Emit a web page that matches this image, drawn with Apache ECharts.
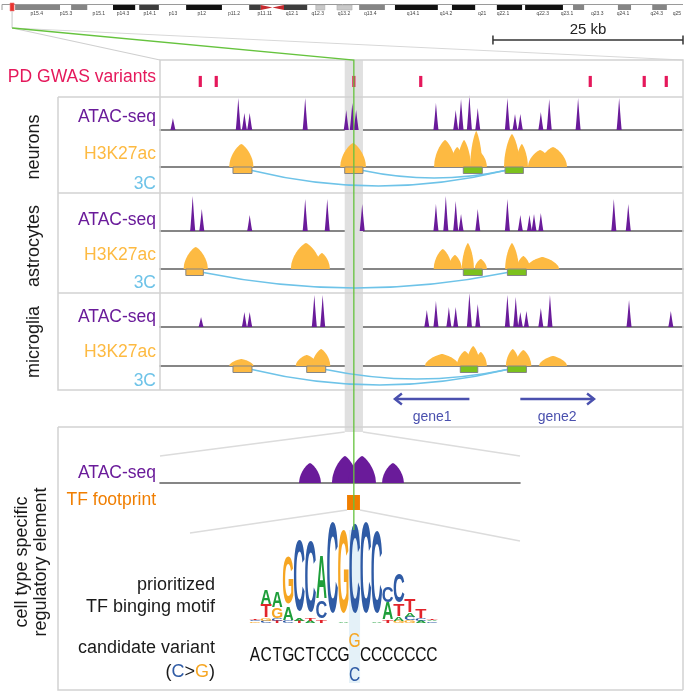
<!DOCTYPE html>
<html><head><meta charset="utf-8">
<script src="https://cdn.jsdelivr.net/npm/echarts@6/dist/echarts.min.js"></script>
<style>html,body{margin:0;padding:0;background:#fff}#c{width:685px;height:693px}</style>
</head><body><div id="c"></div>
<script>
// ================= DATA =================
// chromosome 11 ideogram (Mb)
const chromLength = 135;
const chromBands = [[2.6,11.5,'gpos50'],[13.7,16.9,'gpos50'],[22.0,26.4,'gpos100'],[27.2,31.1,'gpos75'],[36.5,43.6,'gpos100'],[49.0,51.3,'gpos75'],[55.9,60.5,'gpos75'],[62.2,64.0,'gpos25'],[66.4,69.4,'gpos25'],[70.8,75.9,'gpos50'],[77.9,86.4,'gpos100'],[89.2,93.8,'gpos100'],[98.1,103.1,'gpos100'],[103.7,111.2,'gpos100'],[113.2,115.4,'gpos50'],[122.1,124.7,'gpos50'],[128.9,131.8,'gpos50']];
const chromCentromere = [51.3, 55.9];
const chromLabels = [['p15.4',6.9],['p15.3',12.7],['p15.1',19.2],['p14.3',24.0],['p14.1',29.3],['p13',33.9],['p12',39.6],['p11.2',46.0],['p11.11',52.1],['q12.1',57.5],['q12.3',62.6],['q13.2',67.8],['q13.4',73.0],['q14.1',81.5],['q14.2',88.0],['q21',95.2],['q22.1',99.3],['q22.3',107.2],['q23.1',112.0],['q23.3',118.0],['q24.1',123.1],['q24.3',129.8],['q25',133.8]];
const locusMb = [1.6, 2.4];

// locus tracks (kb)
const locusKb = [0, 68.8];
const scaleBarKb = [43.8, 68.8];
const scaleBarLabel = '25 kb';
const gwasKb = [5.3, 7.4, 25.5, 34.3, 56.6, 63.7, 66.6];
const highlightKb = [24.3, 26.7];
const variantKb = 25.5;

// ATAC peaks: [position kb, signal]
const neuronsATAC = [[1.7,12],[10.3,32],[11.1,17],[11.8,17],[19.1,32],[24.5,20],[25.3,27],[25.8,20],[36.3,27],[38.9,20],[39.6,31],[40.7,35],[41.8,22],[45.7,32],[46.7,16],[47.4,16],[50.1,18],[51.2,31],[55.0,32],[60.4,32]];
const astrocytesATAC = [[4.3,35],[5.5,22],[11.8,16],[19.1,32],[22.0,32],[26.6,27],[36.3,27],[37.6,35],[38.9,30],[39.6,17],[41.8,22],[45.7,32],[47.4,16],[48.6,16],[49.2,17],[50.1,18],[59.7,32],[61.6,27]];
const microgliaATAC = [[5.4,10],[11.1,15],[11.8,15],[20.3,32],[21.4,32],[35.1,17],[36.3,26],[38.0,20],[38.9,20],[40.7,34],[41.8,23],[45.7,32],[46.8,30],[47.4,15],[48.2,16],[50.1,19],[51.3,32],[61.7,27],[67.2,16]];

// H3K27ac enrichment bumps: [center kb, half-width kb, signal]
const neuronsH3K27ac = [[10.7,1.6,23],[25.4,1.7,24],[37.5,1.45,27],[39.1,0.9,20],[40.0,0.9,27],[41.6,0.8,36],[42.2,0.8,14],[46.3,1.05,33],[47.6,0.8,23],[50.0,1.6,17],[51.7,1.85,20]];
const astrocytesH3K27ac = [[4.7,1.6,22],[19.2,2.0,26],[21.3,1.05,16],[37.2,1.2,20],[38.8,0.9,14],[40.5,0.8,26],[42.2,0.8,10],[46.3,0.9,26],[47.8,0.9,13],[50.3,2.2,12]];
const microgliaH3K27ac = [[10.7,1.6,7],[19.3,1.45,11],[21.2,1.2,17],[37.1,2.25,12],[40.1,1.05,15],[41.2,0.9,20],[42.2,0.8,14],[46.4,0.9,17],[47.8,1.05,16],[51.7,1.85,10]];

// 3C anchors: [start kb, end kb, kind 0=enhancer 1=promoter]; loops: [from kb, to kb, depth]
const neurons3Cbox = [[9.6,12.1,0],[24.3,26.7,0],[39.9,42.4,1],[45.4,47.8,1]];
const neurons3Cloop = [[12.1,45.4,19],[26.7,45.4,11]];
const astrocytes3Cbox = [[3.4,5.7,0],[39.9,42.4,1],[45.7,48.2,1]];
const astrocytes3Cloop = [[5.7,45.7,19]];
const microglia3Cbox = [[9.6,12.1,0],[19.3,21.8,0],[39.5,41.8,1],[45.7,48.2,1]];
const microglia3Cloop = [[12.1,45.7,19],[21.8,45.7,13]];

// genes: [start kb, end kb, strand]
const genes = [[30.9,40.7,-1],[47.4,57.1,1]];
const geneNames = ['gene1','gene2'];

// regulatory element zoom (bp)
const elementBp = [0, 2400];
const elementATAC = [[1000,73,20],[1233,87,27],[1347,93,27],[1553,73,20]];
const footprintBp = [1247, 1333];
const variantBp = 1293;

// motif logo (bits), per position, letters bottom -> top
const motifColumns = [
  [['G',.03],['C',.03],['T',.03]],
  [['C',.04],['G',.05],['T',.28],['A',.32]],
  [['T',.04],['C',.05],['G',.22],['A',.34]],
  [['C',.04],['A',.28],['G',1.03]],
  [['T',.04],['A',.05],['C',1.55]],
  [['A',.04],['T',.04],['C',1.55]],
  [['T',.06],['C',.36],['A',.95]],
  [['C',1.98]],
  [['A',.03],['G',1.82]],
  [['C',1.94]],
  [['C',1.99]],
  [['A',.03],['C',1.78]],
  [['T',.05],['A',.37],['C',.34]],
  [['G',.04],['A',.07],['T',.26],['C',.64]],
  [['G',.05],['C',.08],['A',.08],['T',.27]],
  [['A',.04],['C',.05],['T',.2]],
  [['C',.03],['A',.03],['T',.03]]
];
const refSequence = 'ACTGCTCCGCCCCCCCC';
const variantColumn = 10;
const refAllele = 'C';
const altAllele = 'G';

// ================= STYLE =================
const FONT = '"Liberation Sans", Arial, Helvetica, sans-serif';
const COL = {atac:'#6A1B9A', h3k:'#FDBA42', c3:'#6EC3E8', gwas:'#E5185B', gene:'#4A50AE',
  frame:'#D2D2D2', base:'#5F5F5F', fp:'#F07E00', boxO:'#FDBA42', boxG:'#7CC11D', hl:'#E0E0E0',
  green:'#66C33E', motifHl:'#E4F1F8'};
const LETTER = {A:'#1E9E3A', C:'#2F5BA5', G:'#F6A623', T:'#E2242B'};
const GLYPH_W = {A:.70, C:.65, G:.69, T:.58};
const STAIN = {gpos100:'#111111', gpos75:'#3d3d3d', gpos50:'#858585', gpos25:'#c9c9c9'};

const chart = echarts.init(document.getElementById('c'));
const grids = [], xAxes = [], yAxes = [], series = [];
function addGrid(box, xr, yr, opts) {
  opts = opts || {};
  const i = grids.length;
  grids.push(Object.assign({show:false}, box));
  const base = {gridIndex:i, type:'value', axisTick:{show:false}, axisLabel:{show:false}, splitLine:{show:false}};
  xAxes.push(Object.assign({}, base, {min:xr[0], max:xr[1], show:!!opts.baseline,
    axisLine:{show:!!opts.baseline, onZero:false, lineStyle:{color:COL.base, width:1.6}}}));
  yAxes.push(Object.assign({}, base, {min:yr[0], max:yr[1], show:false, inverse:!!opts.inverse}));
  return i;
}
function cs(gi, data, renderItem, extra) {
  series.push(Object.assign({type:'custom', xAxisIndex:gi, yAxisIndex:gi, data, clip:false, silent:true, renderItem}, extra || {}));
}
function atacPeaks(gi, data) {
  cs(gi, data, (p, api) => {
    const x = api.value(0), h = api.value(1), hw = 0.34, pts = [];
    for (let k = -12; k <= 12; k++) { const t = k / 12; pts.push(api.coord([x + t * hw, h * Math.pow(1 - Math.abs(t), 1.15)])); }
    return {type:'polygon', shape:{points:pts}, style:{fill:COL.atac}};
  });
}
function domes(gi, data, color) {
  cs(gi, data, (p, api) => {
    const c = api.value(0), hw = api.value(1), h = api.value(2), pts = [];
    for (let k = -24; k <= 24; k++) { const t = k / 24; pts.push(api.coord([c + t * hw, h * Math.pow(1 - Math.pow(Math.abs(t), 1.3), 0.55)])); }
    return {type:'polygon', shape:{points:pts}, style:{fill:color}};
  });
}
function threeC(gi, boxes, loops) {
  cs(gi, loops, (p, api) => {
    const a = api.coord([api.value(0), 3.5]), b = api.coord([api.value(1), 3.5]);
    const cy = api.coord([api.value(0), 2 * api.value(2) - 3.5])[1];
    return {type:'bezierCurve', shape:{x1:a[0], y1:a[1], x2:b[0], y2:b[1], cpx1:(a[0] + b[0]) / 2, cpy1:cy},
      style:{stroke:COL.c3, lineWidth:1.6, fill:null}};
  });
  cs(gi, boxes, (p, api) => {
    const a = api.coord([api.value(0), 0]), b = api.coord([api.value(1), 6.5]);
    return {type:'rect', shape:{x:a[0], y:a[1], width:b[0] - a[0], height:b[1] - a[1]},
      style:{fill:api.value(2) ? COL.boxG : COL.boxO, stroke:'#858585', lineWidth:1}};
  });
}
function track(baseline, atacData, h3kData, boxes, loops) {
  const ga = addGrid({left:160, right:2, top:baseline[0] - 40, height:40}, locusKb, [0, 40], {baseline:true});
  atacPeaks(ga, atacData);
  const gh = addGrid({left:160, right:2, top:baseline[1] - 40, height:40}, locusKb, [0, 40], {baseline:true});
  domes(gh, h3kData, COL.h3k);
  const gc = addGrid({left:160, right:2, top:baseline[1], height:26}, locusKb, [0, 26], {inverse:true});
  threeC(gc, boxes, loops);
}

// ideogram
const gIdeo = addGrid({left:2, right:2, top:5, height:5}, [0, chromLength], [0, 1]);
cs(gIdeo, [[0, chromLength]], (p, api) => {
  const a = api.coord([api.value(0), 1]), b = api.coord([api.value(1), 0]);
  return {type:'group', children:[
    {type:'line', shape:{x1:a[0], y1:a[1] - 0.5, x2:b[0], y2:a[1] - 0.5}, style:{stroke:'#9a9a9a', lineWidth:1}},
    {type:'line', shape:{x1:a[0], y1:a[1] - 0.5, x2:a[0], y2:b[1]}, style:{stroke:'#9a9a9a', lineWidth:1}}]};
});
cs(gIdeo, chromBands.map(b => [b[0], b[1]]), (p, api) => {
  const a = api.coord([api.value(0), 1]), b = api.coord([api.value(1), 0]);
  const st = chromBands[p.dataIndex][2];
  return {type:'rect', shape:{x:a[0], y:a[1], width:b[0] - a[0], height:b[1] - a[1]},
    style:{fill:STAIN[st], stroke:st === 'gpos25' ? '#aaaaaa' : null, lineWidth:0.5}};
});
cs(gIdeo, [chromCentromere], (p, api) => {
  const s = api.value(0), e = api.value(1), m = (s + e) / 2;
  const A = api.coord([s, 1]), B = api.coord([s, 0]), M = api.coord([m, 0.5]), C = api.coord([e, 1]), D = api.coord([e, 0]);
  return {type:'group', children:[
    {type:'polygon', shape:{points:[A, B, M]}, style:{fill:'#C62A2F'}},
    {type:'polygon', shape:{points:[C, D, M]}, style:{fill:'#C62A2F'}}]};
});
cs(gIdeo, chromLabels.map(l => [l[1]]), (p, api) => {
  const pt = api.coord([api.value(0), 0]);
  return {type:'text', x:pt[0], y:pt[1] + 4, style:{text:chromLabels[p.dataIndex][0], fill:'#444', font:'5px ' + FONT, align:'center', verticalAlign:'middle'}};
});
cs(gIdeo, [locusMb], (p, api) => {
  const a = api.coord([api.value(0), 1]), b = api.coord([api.value(1), 0]);
  return {type:'rect', shape:{x:a[0], y:a[1] - 2, width:b[0] - a[0], height:b[1] - a[1] + 3}, style:{fill:'#E8322E', stroke:'#F07070', lineWidth:0.6}};
}, {z:4});

// scale bar
const gScale = addGrid({left:160, right:2, top:30, height:20}, locusKb, [0, 1]);
cs(gScale, [scaleBarKb], (p, api) => {
  const a = api.coord([api.value(0), 0.5]), b = api.coord([api.value(1), 0.5]);
  return {type:'group', children:[
    {type:'line', shape:{x1:a[0], y1:a[1], x2:b[0], y2:b[1]}, style:{stroke:'#333', lineWidth:1.5}},
    {type:'line', shape:{x1:a[0], y1:a[1] - 4.5, x2:a[0], y2:a[1] + 4.5}, style:{stroke:'#333', lineWidth:1.5}},
    {type:'line', shape:{x1:b[0], y1:b[1] - 4.5, x2:b[0], y2:b[1] + 4.5}, style:{stroke:'#333', lineWidth:1.5}},
    {type:'text', x:(a[0] + b[0]) / 2, y:a[1] - 10, style:{text:scaleBarLabel, fill:'#222', font:'15px ' + FONT, align:'center', verticalAlign:'middle'}}]};
});

// highlight band
const gHl = addGrid({left:160, right:2, top:60, height:372}, locusKb, [0, 1]);
cs(gHl, [highlightKb], (p, api) => {
  const a = api.coord([api.value(0), 1]), b = api.coord([api.value(1), 0]);
  return {type:'rect', shape:{x:a[0], y:a[1], width:b[0] - a[0], height:b[1] - a[1]}, style:{fill:COL.hl}};
}, {z:1});

// GWAS variants
const gGwas = addGrid({left:160, right:2, top:60, height:37}, locusKb, [0, 1]);
cs(gGwas, gwasKb.map(v => [v]), (p, api) => {
  const a = api.coord([api.value(0), 0.57]), b = api.coord([api.value(0), 0.27]);
  return {type:'rect', shape:{x:a[0] - 1.6, y:a[1], width:3.2, height:b[1] - a[1]}, style:{fill:COL.gwas}};
});

track([130, 167], neuronsATAC, neuronsH3K27ac, neurons3Cbox, neurons3Cloop);
track([231, 269], astrocytesATAC, astrocytesH3K27ac, astrocytes3Cbox, astrocytes3Cloop);
track([327, 366], microgliaATAC, microgliaH3K27ac, microglia3Cbox, microglia3Cloop);

// genes
const gGenes = addGrid({left:160, right:2, top:390, height:37}, locusKb, [0, 1]);
cs(gGenes, genes, (p, api) => {
  const s = api.coord([api.value(0), 0]), e = api.coord([api.value(1), 0]);
  const strand = api.value(2), y = p.coordSys.y + 9;
  const tip = strand < 0 ? s[0] : e[0], dir = strand < 0 ? 1 : -1;
  return {type:'group', children:[
    {type:'line', shape:{x1:s[0], y1:y, x2:e[0], y2:y}, style:{stroke:COL.gene, lineWidth:2.6}},
    {type:'polyline', shape:{points:[[tip + dir * 7, y - 5.5], [tip, y], [tip + dir * 7, y + 5.5]]}, style:{stroke:COL.gene, lineWidth:2.4, fill:null}},
    {type:'text', x:(s[0] + e[0]) / 2, y:p.coordSys.y + 27, style:{text:geneNames[p.dataIndex], fill:COL.gene, font:'14px ' + FONT, align:'center', verticalAlign:'middle'}}]};
});

// regulatory element zoom
const gEl = addGrid({left:160, right:165, top:443, height:40}, elementBp, [0, 40], {baseline:true});
domes(gEl, elementATAC, COL.atac);
const gFp = addGrid({left:160, right:165, top:495, height:15}, elementBp, [0, 1]);
cs(gFp, [footprintBp], (p, api) => {
  const a = api.coord([api.value(0), 1]), b = api.coord([api.value(1), 0]);
  return {type:'rect', shape:{x:a[0], y:a[1], width:b[0] - a[0], height:b[1] - a[1]}, style:{fill:COL.fp}};
});

// motif logo
const gLogo = addGrid({left:249.5, right:247.5, top:530, height:93}, [0.5, 17.5], [0, 2]);
const logoItems = [];
motifColumns.forEach((col, i) => { let b = 0; col.forEach(([L, h]) => { logoItems.push({col:i + 1, L, b, h}); b += h; }); });
cs(gLogo, logoItems.map(o => [o.col, o.b, o.h]), (p, api) => {
  const L = logoItems[p.dataIndex].L;
  const c = api.value(0), b0 = api.value(1), h = api.value(2);
  const a = api.coord([c - 0.48, b0]), b = api.coord([c + 0.48, b0 + h]);
  const w = b[0] - a[0], hh = a[1] - b[1], fs = 50;
  return {type:'text', x:(a[0] + b[0]) / 2, y:(a[1] + b[1]) / 2, scaleX:w / (GLYPH_W[L] * fs), scaleY:hh / (0.72 * fs),
    style:{text:L, font:'bold ' + fs + 'px ' + FONT, fill:LETTER[L], align:'center', verticalAlign:'middle'}};
}, {z:3});

// candidate variant sequence
const gSeq = addGrid({left:249.5, right:247.5, top:628, height:55}, [0.5, 17.5], [0, 3], {inverse:true});
const ROW = {alt:0.72, seq:1.5, ref:2.6};
const seqItems = [];
refSequence.split('').forEach((ch, i) => {
  if (i + 1 === variantColumn) {
    seqItems.push({col:i + 1, row:ROW.alt, L:altAllele, color:LETTER.G});
    seqItems.push({col:i + 1, row:ROW.ref, L:refAllele, color:LETTER.C});
  } else seqItems.push({col:i + 1, row:ROW.seq, L:ch, color:'#111'});
});
cs(gSeq, seqItems.map(o => [o.col, o.row]), (p, api) => {
  const o = seqItems[p.dataIndex], pt = api.coord([api.value(0), api.value(1)]);
  return {type:'text', x:pt[0], y:pt[1], scaleX:0.74, style:{text:o.L, fill:o.color, font:'21px ' + FONT, align:'center', verticalAlign:'middle'}};
}, {z:3});

chart.setOption({animation:false, backgroundColor:'#fff', grid:grids, xAxis:xAxes, yAxis:yAxes, series});

// ================= DECORATION =================
const P = (gi, v) => chart.convertToPixel({gridIndex:gi}, v);
const lx = P(gIdeo, [(locusMb[0] + locusMb[1]) / 2, 0])[0];
const vx = P(gHl, [variantKb, 0])[0];
const hlL = P(gHl, [highlightKb[0], 0])[0], hlR = P(gHl, [highlightKb[1], 0])[0];
const elL = P(gEl, [elementBp[0], 0])[0], elR = P(gEl, [elementBp[1], 0])[0];
const fpL = P(gFp, [footprintBp[0], 0])[0], fpR = P(gFp, [footprintBp[1], 0])[0];
const mL = P(gLogo, [variantColumn - 0.5, 0])[0], mR = P(gLogo, [variantColumn + 0.5, 0])[0];
const trackL = P(gHl, [locusKb[0], 0])[0], trackR = P(gHl, [locusKb[1], 0])[0];

const els = [];
const line = (pts, stroke, w, z) => els.push({type:'polyline', shape:{points:pts}, style:{stroke, lineWidth:w || 1.5, fill:null}, z:z == null ? 5 : z, silent:true});
const text = (t, x, y, color, size, align, extra) => els.push(Object.assign({type:'text', x, y, z:6, silent:true,
  style:{text:t, fill:color, font:size + 'px ' + FONT, align:align || 'right', verticalAlign:'middle', textAlign:align || 'right', textVerticalAlign:'middle'}}, extra || {}));

// zoom connectors
line([[lx, 11], [lx, 28]], '#cfcfcf', 1.2);
line([[lx, 28], [trackL, 60]], '#cfcfcf', 1.2);
line([[lx, 28], [trackR, 60]], '#d8d8d8', 1.2);
line([[hlL, 432], [elL, 456]], '#dcdcdc', 1.5);
line([[hlR, 432], [elR, 456]], '#dcdcdc', 1.5);
line([[fpL, 510], [190, 533]], '#dcdcdc', 1.5);
line([[fpR, 510], [elR, 541]], '#dcdcdc', 1.5);
// frames
const F = COL.frame;
line([[trackL, 97], [trackL, 60], [trackR, 60], [trackR, 690]], F, 1.5);
line([[58, 97], [trackR, 97]], F, 1.5);
line([[58, 97], [58, 390], [trackR, 390]], F, 1.5);
line([[58, 193], [trackR, 193]], F, 1.5);
line([[58, 293], [trackR, 293]], F, 1.5);
line([[trackL, 97], [trackL, 390]], F, 1.5);
line([[58, 427], [trackR, 427]], F, 1.5);
line([[58, 427], [58, 690], [trackR, 690]], F, 1.5);
// motif highlight column
els.push({type:'rect', shape:{x:mL, y:530, width:mR - mL, height:153}, style:{fill:COL.motifHl}, z:0, silent:true});
// variant line
line([[lx, 28], [vx, 60], [vx, 530]], COL.green, 1.3, 20);

// labels
text('PD GWAS variants', 156, 77, COL.gwas, 17.5);
[[117, 154, 184], [220, 255, 283], [317, 352, 381]].forEach(r => {
  text('ATAC-seq', 156, r[0], COL.atac, 17.5);
  text('H3K27ac', 156, r[1], COL.h3k, 17.5);
  text('3C', 156, r[2], COL.c3, 17.5);
});
const rot = {rotation:Math.PI / 2};
text('neurons', 34, 147, '#1a1a1a', 18, 'center', rot);
text('astrocytes', 34, 246, '#1a1a1a', 18, 'center', rot);
text('microglia', 34, 342, '#1a1a1a', 18, 'center', rot);
els.push({type:'text', x:32, y:562, rotation:Math.PI / 2, z:6, silent:true,
  style:{text:'cell type specific\nregulatory element', fill:'#1a1a1a', font:'18px ' + FONT, lineHeight:19, align:'center', verticalAlign:'middle', textAlign:'center', textVerticalAlign:'middle'}});
text('ATAC-seq', 156, 473, COL.atac, 17.5);
text('TF footprint', 156, 500, COL.fp, 17.5);
text('prioritized', 215, 585, '#1a1a1a', 18);
text('TF binging motif', 215, 607, '#1a1a1a', 18);
text('candidate variant', 215, 648, '#1a1a1a', 18);
els.push({type:'text', x:215, y:672, z:6, silent:true, style:{text:'({c|C}>{g|G})', fill:'#1a1a1a', font:'18px ' + FONT, align:'right', verticalAlign:'middle', textAlign:'right', textVerticalAlign:'middle',
  rich:{c:{fill:LETTER.C, color:LETTER.C, font:'18px ' + FONT}, g:{fill:LETTER.G, color:LETTER.G, font:'18px ' + FONT}}}});

chart.setOption({graphic:{elements:els}});
</script></body></html>
